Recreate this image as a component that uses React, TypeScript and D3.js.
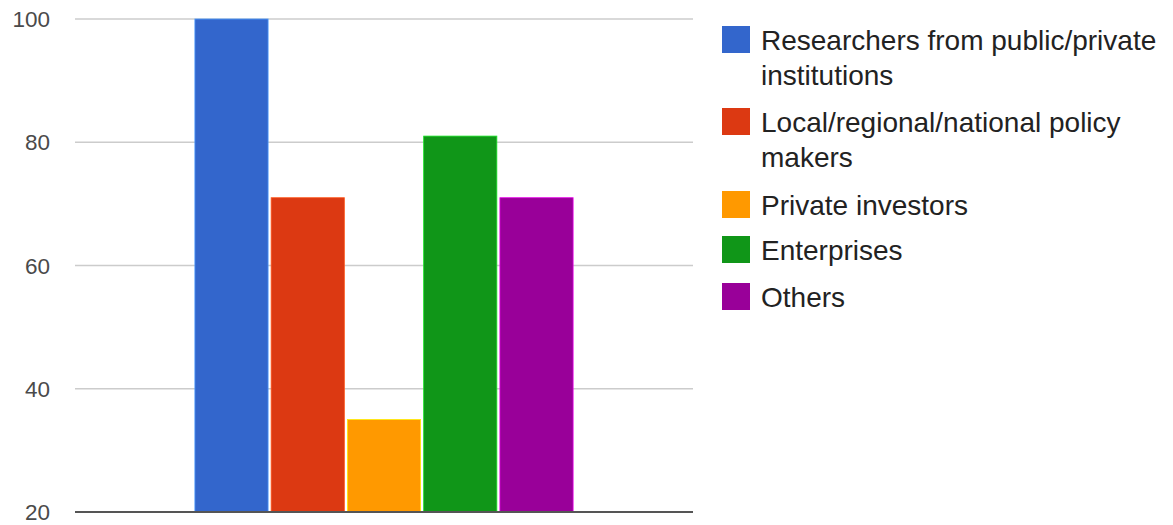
import React, { useRef, useEffect } from 'react';
import * as d3 from 'd3';

// Data
const seriesNames = [
  'Researchers from public/private institutions',
  'Local/regional/national policy makers',
  'Private investors',
  'Enterprises',
  'Others',
];
const seriesValues = [100, 71, 35, 81, 71];
const seriesColors = ['#3366cc', '#dc3912', '#ff9900', '#109618', '#990099'];
const legendLines = [
  ['Researchers from public/private', 'institutions'],
  ['Local/regional/national policy', 'makers'],
  ['Private investors'],
  ['Enterprises'],
  ['Others'],
];
const yTicks = [20, 40, 60, 80, 100];

const width = 1173;
const height = 525;

const App: React.FC = () => {
  const ref = useRef<SVGSVGElement | null>(null);

  useEffect(() => {
    if (!ref.current) return;
    const svg = d3.select(ref.current);
    svg.selectAll('*').remove();

    const plot = { left: 75, right: 693, top: 19, bottom: 512 };
    const font = '"Liberation Sans", Arial, sans-serif';

    const y = d3.scaleLinear().domain([20, 100]).range([plot.bottom, plot.top]);

    // single category spread over the middle of the plot
    const groupWidth = (plot.right - plot.left) * 0.612;
    const groupStart = (plot.left + plot.right) / 2 - groupWidth / 2;
    const x = d3.scaleBand<string>()
      .domain(seriesNames)
      .range([groupStart, groupStart + groupWidth])
      .paddingInner(0.04);

    // gridlines
    svg.append('g')
      .selectAll('line')
      .data(yTicks.filter(t => t !== 20))
      .join('line')
      .attr('x1', plot.left)
      .attr('x2', plot.right)
      .attr('y1', d => y(d))
      .attr('y2', d => y(d))
      .attr('stroke', '#cccccc')
      .attr('stroke-width', 1.5);

    // tick labels
    svg.append('g')
      .selectAll('text')
      .data(yTicks)
      .join('text')
      .attr('x', 50)
      .attr('y', d => y(d))
      .attr('dy', '0.36em')
      .attr('text-anchor', 'end')
      .attr('font-family', font)
      .attr('font-size', 22.5)
      .attr('fill', '#4a4a4a')
      .text(d => d);

    // bars
    svg.append('g')
      .selectAll('rect')
      .data(seriesValues)
      .join('rect')
      .attr('x', (_d, i) => x(seriesNames[i])!)
      .attr('width', x.bandwidth())
      .attr('y', d => y(d))
      .attr('height', d => plot.bottom - y(d))
      .attr('fill', (_d, i) => seriesColors[i])
      .attr('stroke', (_d, i) => d3.color(seriesColors[i])!.brighter(1.2).toString())
      .attr('stroke-width', 0.8);

    // baseline
    svg.append('line')
      .attr('x1', plot.left)
      .attr('x2', plot.right)
      .attr('y1', plot.bottom)
      .attr('y2', plot.bottom)
      .attr('stroke', '#555555')
      .attr('stroke-width', 2);

    // legend
    const squareTops = [26, 108, 191, 236, 283];
    const legend = svg.append('g');
    legendLines.forEach((lines, i) => {
      const top = squareTops[i];
      legend.append('rect')
        .attr('x', 722)
        .attr('y', top)
        .attr('width', 28)
        .attr('height', 27)
        .attr('fill', seriesColors[i]);
      lines.forEach((line, j) => {
        legend.append('text')
          .attr('x', 761)
          .attr('y', top + 24 + j * 35)
          .attr('font-family', font)
          .attr('font-size', 28)
          .attr('fill', '#222222')
          .text(line);
      });
    });
  }, []);

  return (
    <svg
      ref={ref}
      width={width}
      height={height}
      style={{ position: 'absolute', left: 0, top: 0, background: '#ffffff' }}
    />
  );
};

export default App;
